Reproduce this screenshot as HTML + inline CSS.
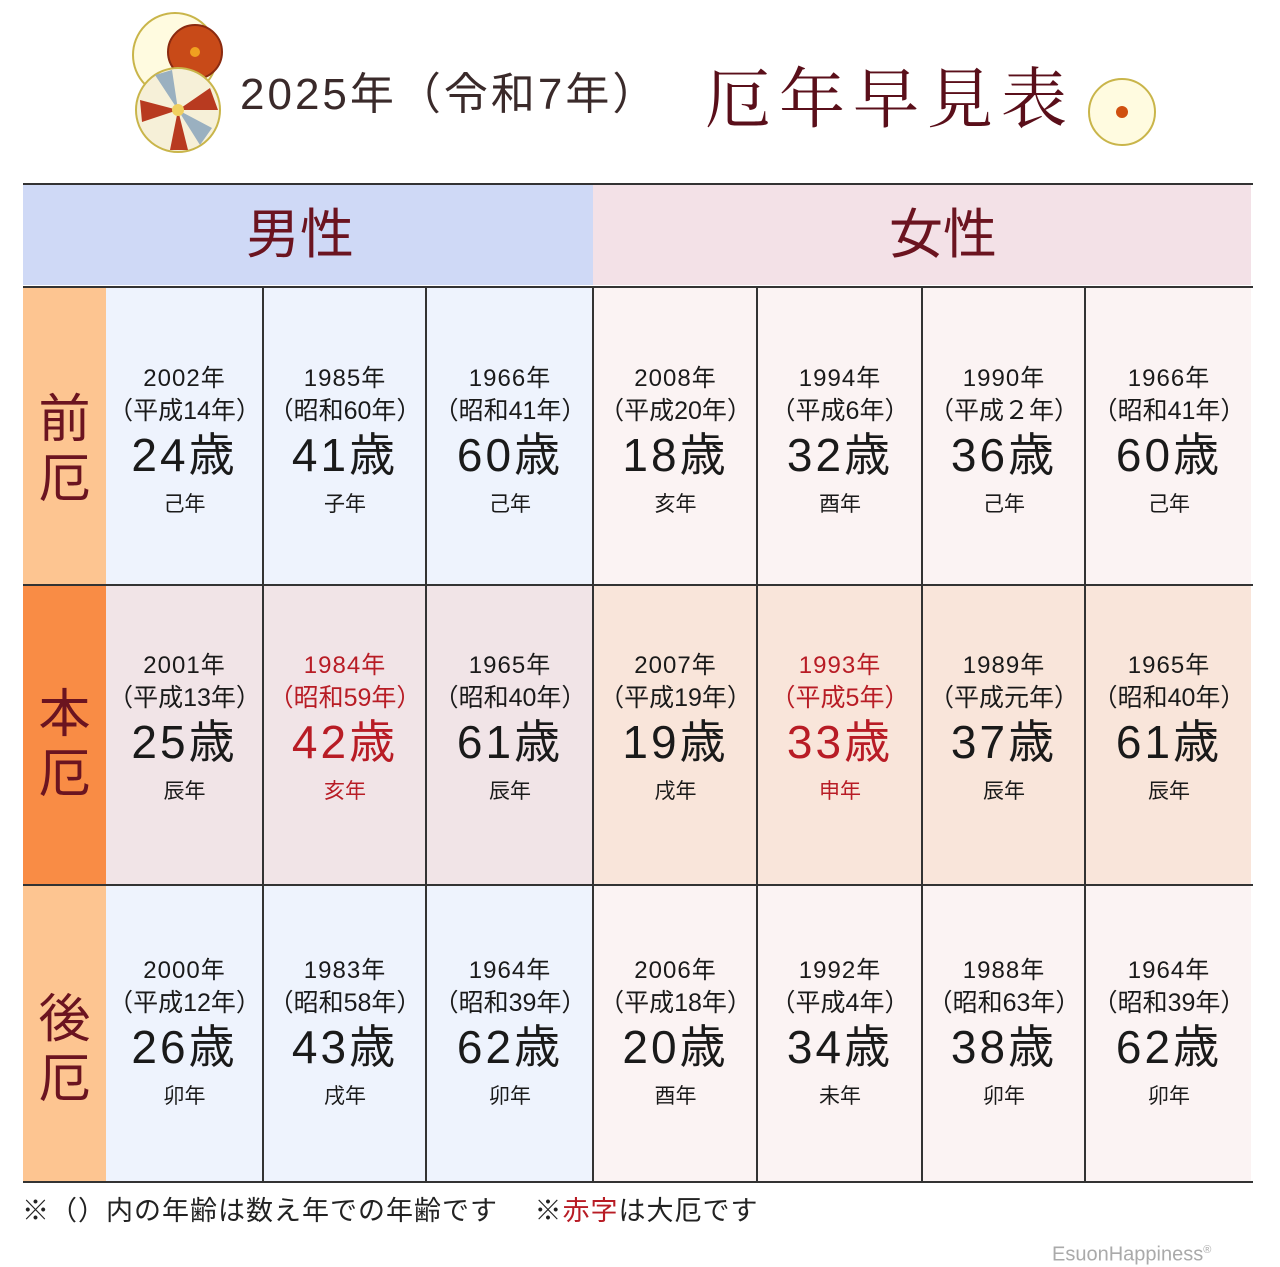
<!DOCTYPE html>
<html><head><meta charset="utf-8"><style>
*{margin:0;padding:0;box-sizing:border-box}
body{width:1280px;height:1267px;background:#fff;position:relative;overflow:hidden;font-family:"Liberation Sans","Noto Sans CJK JP",sans-serif;color:#1a1a1a}
.a{position:absolute}
.c{position:absolute;text-align:center;white-space:nowrap}
.y{font-size:24px;line-height:30px;letter-spacing:1px}
.p{font-size:25px;line-height:30px;margin-top:2px;letter-spacing:0px}
.g{font-size:46px;line-height:50px;margin-top:4px;letter-spacing:3px}
.z{font-size:21px;line-height:26px;margin-top:12px}
.r{color:#b81c25}
.vl{position:absolute;width:2px;background:#333}
.hl{position:absolute;height:2px;background:#333}
.lab{position:absolute;left:23px;width:83px;font-family:"Noto Sans CJK JP",sans-serif;color:#6b1420;font-size:52px;line-height:60px;text-align:center}
</style></head><body>
<svg class="a" style="left:60px;top:0" width="180" height="165">
<circle cx="115" cy="55" r="42" fill="#fffbe0" stroke="#c9b54a" stroke-width="2"/>
<circle cx="115" cy="55" r="7" fill="#b52a10"/>
<circle cx="135" cy="52" r="27" fill="#c84a18" stroke="#8a2a10" stroke-width="2"/><circle cx="135" cy="52" r="5" fill="#f0a020"/>
<circle cx="118" cy="110" r="42" fill="#f6f0d8" stroke="#c9b54a" stroke-width="2"/>
<path d="M118 110 L80 100 L82 122Z M118 110 L150 88 L158 110Z M118 110 L110 150 L128 150Z" fill="#b83a20"/>
<path d="M118 110 L95 75 L112 70Z M118 110 L152 128 L140 145Z" fill="#9ab0c0"/>
<circle cx="118" cy="110" r="6" fill="#f0d060"/>
</svg>
<svg class="a" style="left:1085px;top:75px" width="75" height="75"><circle cx="37" cy="37" r="33" fill="#fffbe0" stroke="#c9b54a" stroke-width="2"/><circle cx="37" cy="37" r="6" fill="#d05010"/></svg>
<div class="a" style="left:240px;top:66px;font-size:44px;line-height:58px;color:#3a2a2a;white-space:nowrap;letter-spacing:3px">2025年（令和7年）</div>
<div class="a" style="left:705px;top:56px;font-size:66px;line-height:76px;color:#5a0f1a;font-family:'Noto Serif CJK SC',serif;letter-spacing:8px;white-space:nowrap">厄年早見表</div>

<div class="a" style="left:23px;top:184px;width:570px;height:101px;background:#cfd9f6"></div>
<div class="a" style="left:593px;top:184px;width:658px;height:101px;background:#f3e1e7"></div>
<div class="hl" style="left:23px;top:183px;width:1230px"></div>
<div class="a" style="left:0px;top:205px;width:600px;text-align:center;font-size:54px;line-height:60px;color:#6b1420">男性</div>
<div class="a" style="left:643px;top:205px;width:600px;text-align:center;font-size:54px;line-height:60px;color:#6b1420">女性</div>

<div class="a" style="left:23px;top:288px;width:83px;height:297px;background:#fdc591"></div>
<div class="a" style="left:23px;top:585px;width:83px;height:300px;background:#f98c45"></div>
<div class="a" style="left:23px;top:885px;width:83px;height:297px;background:#fdc591"></div>
<div class="a" style="left:106px;top:288px;width:487px;height:297px;background:#eef3fd"></div>
<div class="a" style="left:106px;top:585px;width:487px;height:300px;background:#f1e4e7"></div>
<div class="a" style="left:106px;top:885px;width:487px;height:297px;background:#eef3fd"></div>
<div class="a" style="left:593px;top:288px;width:658px;height:297px;background:#fbf3f3"></div>
<div class="a" style="left:593px;top:585px;width:658px;height:300px;background:#f9e5da"></div>
<div class="a" style="left:593px;top:885px;width:658px;height:297px;background:#fbf3f3"></div>

<div class="lab" style="top:385px">前<br>厄</div>
<div class="lab" style="top:680px">本<br>厄</div>
<div class="lab" style="top:985px">後<br>厄</div>

<div class="hl" style="left:23px;top:286px;width:1230px"></div>
<div class="hl" style="left:23px;top:584px;width:1230px"></div>
<div class="hl" style="left:23px;top:884px;width:1230px"></div>
<div class="hl" style="left:23px;top:1181px;width:1230px"></div>
<div class="vl" style="left:262px;top:287px;height:895px"></div>
<div class="vl" style="left:425px;top:287px;height:895px"></div>
<div class="vl" style="left:592px;top:287px;height:895px"></div>
<div class="vl" style="left:756px;top:287px;height:895px"></div>
<div class="vl" style="left:921px;top:287px;height:895px"></div>
<div class="vl" style="left:1084px;top:287px;height:895px"></div>

<div class="c" style="left:106px;width:157px;top:364px"><div class="y">2002年</div><div class="p">（平成14年）</div><div class="g">24歳</div><div class="z">己年</div></div>
<div class="c" style="left:264px;width:162px;top:364px"><div class="y">1985年</div><div class="p">（昭和60年）</div><div class="g">41歳</div><div class="z">子年</div></div>
<div class="c" style="left:427px;width:166px;top:364px"><div class="y">1966年</div><div class="p">（昭和41年）</div><div class="g">60歳</div><div class="z">己年</div></div>
<div class="c" style="left:594px;width:163px;top:364px"><div class="y">2008年</div><div class="p">（平成20年）</div><div class="g">18歳</div><div class="z">亥年</div></div>
<div class="c" style="left:758px;width:164px;top:364px"><div class="y">1994年</div><div class="p">（平成6年）</div><div class="g">32歳</div><div class="z">酉年</div></div>
<div class="c" style="left:923px;width:162px;top:364px"><div class="y">1990年</div><div class="p">（平成２年）</div><div class="g">36歳</div><div class="z">己年</div></div>
<div class="c" style="left:1086px;width:166px;top:364px"><div class="y">1966年</div><div class="p">（昭和41年）</div><div class="g">60歳</div><div class="z">己年</div></div>

<div class="c" style="left:106px;width:157px;top:651px"><div class="y">2001年</div><div class="p">（平成13年）</div><div class="g">25歳</div><div class="z">辰年</div></div>
<div class="c r" style="left:264px;width:162px;top:651px"><div class="y">1984年</div><div class="p">（昭和59年）</div><div class="g">42歳</div><div class="z">亥年</div></div>
<div class="c" style="left:427px;width:166px;top:651px"><div class="y">1965年</div><div class="p">（昭和40年）</div><div class="g">61歳</div><div class="z">辰年</div></div>
<div class="c" style="left:594px;width:163px;top:651px"><div class="y">2007年</div><div class="p">（平成19年）</div><div class="g">19歳</div><div class="z">戌年</div></div>
<div class="c r" style="left:758px;width:164px;top:651px"><div class="y">1993年</div><div class="p">（平成5年）</div><div class="g">33歳</div><div class="z">申年</div></div>
<div class="c" style="left:923px;width:162px;top:651px"><div class="y">1989年</div><div class="p">（平成元年）</div><div class="g">37歳</div><div class="z">辰年</div></div>
<div class="c" style="left:1086px;width:166px;top:651px"><div class="y">1965年</div><div class="p">（昭和40年）</div><div class="g">61歳</div><div class="z">辰年</div></div>

<div class="c" style="left:106px;width:157px;top:956px"><div class="y">2000年</div><div class="p">（平成12年）</div><div class="g">26歳</div><div class="z">卯年</div></div>
<div class="c" style="left:264px;width:162px;top:956px"><div class="y">1983年</div><div class="p">（昭和58年）</div><div class="g">43歳</div><div class="z">戌年</div></div>
<div class="c" style="left:427px;width:166px;top:956px"><div class="y">1964年</div><div class="p">（昭和39年）</div><div class="g">62歳</div><div class="z">卯年</div></div>
<div class="c" style="left:594px;width:163px;top:956px"><div class="y">2006年</div><div class="p">（平成18年）</div><div class="g">20歳</div><div class="z">酉年</div></div>
<div class="c" style="left:758px;width:164px;top:956px"><div class="y">1992年</div><div class="p">（平成4年）</div><div class="g">34歳</div><div class="z">未年</div></div>
<div class="c" style="left:923px;width:162px;top:956px"><div class="y">1988年</div><div class="p">（昭和63年）</div><div class="g">38歳</div><div class="z">卯年</div></div>
<div class="c" style="left:1086px;width:166px;top:956px"><div class="y">1964年</div><div class="p">（昭和39年）</div><div class="g">62歳</div><div class="z">卯年</div></div>

<div class="a" style="left:22px;top:1194px;font-size:27px;line-height:34px;color:#222;white-space:nowrap;letter-spacing:1px">※（）内の年齢は数え年での年齢です　 ※<span class="r">赤字</span>は大厄です</div>
<div class="a" style="left:1052px;top:1238px;font-size:20px;line-height:24px;color:#aaa;white-space:nowrap">EsuonHappiness<sup style="font-size:11px">®</sup></div>
</body></html>
